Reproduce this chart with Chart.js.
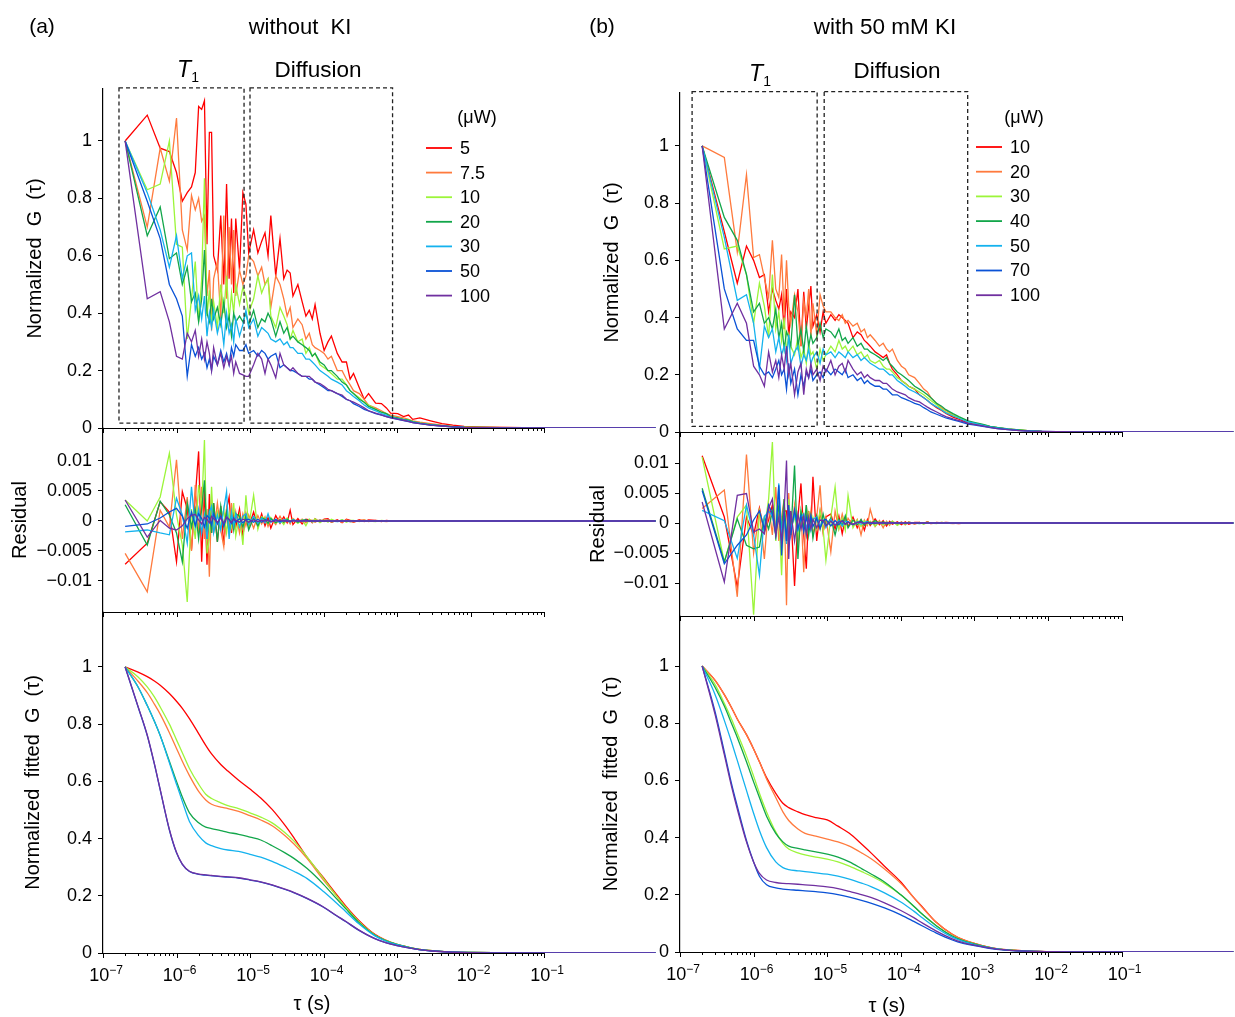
<!DOCTYPE html>
<html><head><meta charset="utf-8">
<script src="https://cdn.jsdelivr.net/npm/chart.js@4.4.1/dist/chart.umd.min.js"></script>
<style>
html,body{margin:0;padding:0;background:#fff;}
#fig{position:relative;width:1235px;height:1017px;overflow:hidden;background:#fff;font-family:"Liberation Sans",Arial,sans-serif;color:#000;}
#fig canvas{position:absolute;}
.t{position:absolute;transform:translate(-50%,-50%);white-space:pre;line-height:1;}
</style></head><body><div id="fig">
<canvas id="cTL" width="660" height="460" style="left:0;top:0"></canvas>
<canvas id="cML" width="660" height="240" style="left:0;top:400px"></canvas>
<canvas id="cBL" width="660" height="427" style="left:0;top:590px"></canvas>
<canvas id="cTR" width="655" height="460" style="left:580px;top:0"></canvas>
<canvas id="cMR" width="655" height="240" style="left:580px;top:400px"></canvas>
<canvas id="cBR" width="655" height="427" style="left:580px;top:590px"></canvas>
<div class="t" style="left:42px;top:25px;font-size:21px">(a)</div>
<div class="t" style="left:300px;top:27px;font-size:22px">without  KI</div>
<div class="t" style="left:602px;top:25px;font-size:21px">(b)</div>
<div class="t" style="left:885px;top:27px;font-size:22.5px">with 50 mM KI</div>
<div class="t" style="left:188px;top:71px;font-size:23px"><i>T</i><sub style="font-size:14px">1</sub></div>
<div class="t" style="left:318px;top:70px;font-size:22.5px">Diffusion</div>
<div class="t" style="left:760px;top:75px;font-size:23px"><i>T</i><sub style="font-size:14px">1</sub></div>
<div class="t" style="left:897px;top:71px;font-size:22.5px">Diffusion</div>
<div class="t" style="left:312px;top:1003px;font-size:20px">τ (s)</div>
<div class="t" style="left:887px;top:1005px;font-size:20px">τ (s)</div>
</div>
<script>
Chart.defaults.font.family = '"Liberation Sans", Arial, sans-serif';
Chart.defaults.color = '#000';

// ---------- tick definitions ----------
const xMajor = [1e-7, 1e-6, 1e-5, 1e-4, 1e-3, 1e-2, 1e-1];
const xMinorMult = [2, 3, 4, 5, 6, 7, 8, 9];
const xExpLabels = ['\u22127', '\u22126', '\u22125', '\u22124', '\u22123', '\u22122', '\u22121'];
const gTicks = [0, 0.2, 0.4, 0.6, 0.8, 1];
const gTickLabels = ['0', '0.2', '0.4', '0.6', '0.8', '1'];
const rTicks = [-0.01, -0.005, 0, 0.005, 0.01];
const rTickLabels = ['\u22120.01', '\u22120.005', '0', '0.005', '0.01'];

// ---------- series meta ----------
const colors = ['#ff0000', '#ff7a3d', '#9cf53a', '#12a64a', '#14b2ee', '#0a52d6', '#7030a0'];
const powersA = ['5', '7.5', '10', '20', '30', '50', '100'];
const powersB = ['10', '20', '30', '40', '50', '70', '100'];

// ---------- lag times (microseconds) ----------
const tauUs = [0.2,0.4,0.6,0.8,1,1.2,1.4,1.6,1.8,2,2.2,2.4,2.6,2.8,3,3.2,3.6,4,4.4,4.8,5.2,5.6,6,6.4,7.2,8,8.8,9.6,
 11.2,12.8,14.4,16,17.6,19.2,22.4,25.6,28.8,32,35.2,38.4,44.8,51.2,57.6,64,70.4,76.8,89.6,102,
 115,128,154,179,205,230,256,307,358,410,512,614,717,819,
 1024,1229,1434,1638,2048,2867,4096,5734,8192,
 13000,26000,52000,100000,210000,520000,1000000,3300000];
const resTauUs = [0.2,0.4,0.6,0.8,1,1.2,1.4,1.6,1.8,2,2.2,2.4,2.6,2.8,3,3.2,3.6,4,4.4,4.8,5.2,5.6,6,6.4,7.2,8,8.8,9.6,
 11.2,12.8,14.4,16,17.6,19.2,22.4,25.6,28.8,32,35.2,38.4,44.8,51.2,57.6,64,70.4,76.8,89.6,102,
 115,128,154,179,205,230,256,307,358,410,512,614,717,819,
 2048,8192,100000,3300000];
const fitTauUs = [0.2,0.3,0.4,0.5,0.6,0.8,1,1.2,1.5,2,2.5,3,4,5,7,10,14,20,30,40,60,100,150,200,300,500,700,1000,1500,2000,3000,5000,10000,20000,100000,1000000,3300000];

// ---------- (a) normalized G ----------
const gA5 = [1.0,1.09,0.975,0.963,0.89,0.79,0.82,0.84,0.89,1.12,1.11,1.14,0.64,1.03,1.03,0.6,0.55,0.74,0.5,0.85,0.52,0.73,0.47,0.73,0.55,0.82,0.78,0.61,
 0.69,0.61,0.65,0.68,0.6,0.74,0.53,0.66,0.52,0.55,0.54,0.46,0.5,0.44,0.39,0.41,0.38,0.43,0.33,0.27,
 0.3,0.32,0.26,0.23,0.23,0.17,0.19,0.14,0.1,0.12,0.087,0.085,0.07,0.052,
 0.05,0.04,0.045,0.03,0.035,0.025,0.015,0.01,0.006,
 0.004,0.002,0.001,0.001,0,0.001,0,0];
const gA7_5 = [1.0,0.7,0.975,0.86,1.08,0.69,0.62,0.81,0.76,0.8,0.72,0.74,0.46,0.55,0.34,0.52,0.58,0.38,0.74,0.45,0.7,0.5,0.69,0.46,0.55,0.5,0.53,0.6,
 0.58,0.53,0.56,0.5,0.52,0.42,0.53,0.5,0.45,0.39,0.42,0.35,0.38,0.36,0.31,0.33,0.29,0.28,0.27,0.26,
 0.24,0.25,0.2,0.2,0.17,0.15,0.13,0.12,0.1,0.08,0.07,0.06,0.05,0.045,
 0.04,0.035,0.03,0.025,0.02,0.015,0.01,0.006,0.004,
 0.002,0.002,0.001,0,0,0.001,0,0];
const gA10 = [1.0,0.83,0.85,1.0,0.64,0.63,0.31,0.45,0.58,0.37,0.52,0.87,0.39,0.48,0.36,0.44,0.35,0.5,0.4,0.53,0.38,0.47,0.4,0.5,0.43,0.49,0.46,0.4,
 0.45,0.53,0.47,0.5,0.52,0.39,0.35,0.42,0.39,0.36,0.31,0.34,0.3,0.31,0.26,0.28,0.25,0.26,0.22,0.21,
 0.2,0.19,0.17,0.17,0.15,0.13,0.12,0.105,0.09,0.08,0.065,0.055,0.05,0.04,
 0.035,0.03,0.028,0.022,0.018,0.012,0.008,0.005,0.003,
 0.002,0.001,0.001,0,0,0,0,0];
const gA20 = [1.0,0.67,0.77,0.59,0.61,0.5,0.56,0.44,0.47,0.37,0.45,0.62,0.4,0.37,0.45,0.38,0.42,0.36,0.44,0.35,0.39,0.32,0.4,0.37,0.39,0.37,0.4,0.36,
 0.41,0.35,0.38,0.37,0.4,0.38,0.32,0.37,0.33,0.35,0.31,0.32,0.3,0.29,0.28,0.27,0.25,0.26,0.23,0.22,
 0.2,0.2,0.18,0.16,0.15,0.13,0.12,0.1,0.09,0.075,0.065,0.055,0.05,0.04,
 0.035,0.03,0.027,0.022,0.017,0.012,0.008,0.005,0.003,
 0.002,0.001,0,0,0,0,0,0];
const gA30 = [1.0,0.82,0.69,0.56,0.67,0.52,0.6,0.61,0.41,0.46,0.38,0.46,0.32,0.4,0.35,0.41,0.33,0.38,0.29,0.4,0.33,0.36,0.3,0.38,0.32,0.36,0.41,0.35,
 0.38,0.32,0.35,0.34,0.33,0.31,0.3,0.31,0.29,0.3,0.28,0.28,0.26,0.26,0.24,0.24,0.23,0.22,0.2,0.19,
 0.18,0.17,0.16,0.15,0.13,0.12,0.11,0.095,0.08,0.07,0.06,0.05,0.045,0.038,
 0.033,0.028,0.025,0.02,0.016,0.011,0.007,0.004,0.002,
 0.001,0.001,0,0,0,0,0,0];
const gA50 = [1.0,0.79,0.66,0.5,0.45,0.39,0.18,0.29,0.25,0.28,0.24,0.26,0.21,0.24,0.2,0.25,0.22,0.27,0.23,0.26,0.22,0.28,0.25,0.29,0.27,0.27,0.29,0.26,
 0.27,0.25,0.27,0.26,0.24,0.25,0.26,0.21,0.22,0.21,0.2,0.2,0.19,0.18,0.18,0.17,0.17,0.16,0.15,0.14,
 0.13,0.13,0.12,0.11,0.1,0.095,0.085,0.075,0.065,0.06,0.05,0.045,0.04,0.035,
 0.03,0.026,0.022,0.019,0.015,0.01,0.007,0.004,0.002,
 0.001,0,0,0,0,0,0,0];
const gA100 = [1.0,0.45,0.475,0.37,0.25,0.24,0.33,0.3,0.34,0.25,0.31,0.24,0.3,0.26,0.2,0.28,0.22,0.26,0.21,0.25,0.22,0.25,0.19,0.23,0.19,0.185,0.18,0.18,
 0.22,0.26,0.24,0.19,0.24,0.22,0.175,0.26,0.22,0.21,0.2,0.21,0.19,0.18,0.18,0.18,0.17,0.16,0.155,0.145,
 0.135,0.13,0.12,0.115,0.1,0.095,0.09,0.08,0.07,0.06,0.052,0.046,0.04,0.036,
 0.031,0.027,0.023,0.019,0.015,0.01,0.007,0.004,0.002,
 0.001,0,0,0,0,0,0,0];

// ---------- (b) normalized G ----------
const gB10 = [1.0,0.7,0.52,0.65,0.6,0.54,0.55,0.42,0.5,0.46,0.43,0.48,0.36,0.5,0.33,0.42,0.4,0.5,0.3,0.49,0.36,0.44,0.51,0.37,0.41,0.35,0.42,0.38,
 0.41,0.39,0.41,0.4,0.39,0.38,0.33,0.35,0.34,0.32,0.31,0.3,0.28,0.27,0.26,0.27,0.24,0.22,0.2,0.18,
 0.17,0.16,0.15,0.13,0.12,0.11,0.1,0.085,0.075,0.065,0.052,0.045,0.038,0.033,
 0.028,0.024,0.021,0.018,0.014,0.01,0.006,0.004,0.002,
 0.001,0.001,0,0,0,0,0,0];
const gB20 = [1.0,0.96,0.63,0.9,0.61,0.62,0.54,0.47,0.67,0.5,0.47,0.62,0.41,0.6,0.44,0.38,0.48,0.42,0.3,0.46,0.4,0.5,0.33,0.45,0.34,0.48,0.44,0.42,
 0.42,0.4,0.39,0.41,0.38,0.39,0.37,0.38,0.35,0.36,0.33,0.34,0.32,0.3,0.31,0.29,0.28,0.29,0.25,0.23,
 0.22,0.2,0.19,0.17,0.15,0.14,0.12,0.1,0.085,0.075,0.06,0.05,0.042,0.036,
 0.03,0.026,0.022,0.019,0.015,0.01,0.007,0.004,0.002,
 0.001,0.001,0,0,0,0,0,0];
const gB30 = [1.0,0.64,0.65,0.55,0.38,0.52,0.44,0.33,0.55,0.36,0.42,0.32,0.4,0.28,0.34,0.3,0.27,0.33,0.26,0.29,0.24,0.31,0.27,0.28,0.22,0.29,0.25,0.27,
 0.3,0.28,0.32,0.29,0.3,0.28,0.3,0.27,0.28,0.26,0.27,0.25,0.24,0.25,0.23,0.22,0.22,0.21,0.19,0.18,
 0.17,0.16,0.15,0.14,0.13,0.12,0.11,0.095,0.08,0.07,0.058,0.05,0.043,0.036,
 0.03,0.026,0.022,0.019,0.015,0.01,0.007,0.004,0.002,
 0.001,0,0,0,0,0,0,0];
const gB40 = [1.0,0.75,0.67,0.55,0.42,0.45,0.38,0.4,0.36,0.43,0.33,0.38,0.29,0.35,0.33,0.3,0.48,0.3,0.36,0.28,0.37,0.3,0.34,0.31,0.33,0.38,0.33,0.36,
 0.35,0.33,0.36,0.32,0.33,0.31,0.33,0.3,0.31,0.29,0.29,0.28,0.27,0.26,0.25,0.26,0.24,0.23,0.21,0.2,
 0.19,0.18,0.16,0.15,0.14,0.13,0.12,0.1,0.09,0.078,0.064,0.054,0.046,0.039,
 0.033,0.028,0.024,0.02,0.016,0.011,0.007,0.004,0.002,
 0.001,0,0,0,0,0,0,0];
const gB50 = [1.0,0.68,0.46,0.48,0.38,0.22,0.37,0.33,0.36,0.28,0.33,0.27,0.3,0.25,0.34,0.24,0.28,0.3,0.23,0.27,0.25,0.29,0.24,0.26,0.28,0.24,0.29,0.27,
 0.28,0.26,0.28,0.27,0.26,0.28,0.26,0.27,0.25,0.26,0.25,0.24,0.23,0.22,0.22,0.21,0.2,0.2,0.18,0.17,
 0.16,0.15,0.14,0.13,0.12,0.11,0.1,0.088,0.077,0.067,0.056,0.048,0.041,0.035,
 0.03,0.025,0.021,0.018,0.014,0.01,0.006,0.004,0.002,
 0.001,0,0,0,0,0,0,0];
const gB70 = [1.0,0.5,0.36,0.32,0.32,0.23,0.2,0.21,0.19,0.22,0.25,0.2,0.22,0.15,0.24,0.17,0.22,0.13,0.2,0.16,0.21,0.19,0.22,0.18,0.2,0.21,0.19,0.22,
 0.2,0.22,0.21,0.2,0.22,0.19,0.2,0.18,0.19,0.17,0.18,0.17,0.16,0.16,0.15,0.15,0.14,0.13,0.13,0.12,
 0.115,0.11,0.1,0.095,0.085,0.078,0.07,0.062,0.055,0.049,0.042,0.037,0.032,0.028,
 0.024,0.021,0.018,0.015,0.012,0.008,0.005,0.003,0.002,
 0.001,0,0,0,0,0,0,0];
const gB100 = [1.0,0.36,0.45,0.38,0.23,0.2,0.16,0.28,0.21,0.25,0.19,0.27,0.22,0.3,0.2,0.24,0.13,0.21,0.24,0.13,0.22,0.19,0.24,0.2,0.22,0.18,0.23,0.21,
 0.25,0.2,0.23,0.24,0.21,0.25,0.22,0.2,0.21,0.19,0.2,0.19,0.18,0.18,0.17,0.17,0.16,0.15,0.14,0.135,
 0.13,0.12,0.11,0.105,0.095,0.087,0.08,0.07,0.061,0.054,0.046,0.04,0.035,0.03,
 0.026,0.022,0.019,0.016,0.012,0.008,0.005,0.003,0.002,
 0.001,0,0,0,0,0,0,0];

// ---------- (a) residuals ----------
const rA5 = [-0.0072,-0.0037,0.0032,0.0015,-0.0068,0.0049,0.002,-0.0048,0.004,0.0116,-0.0068,0.0054,-0.0073,0.0045,-0.002,0.003,-0.0035,0.0025,-0.004,0.002,0.004,-0.002,0.0015,-0.001,0.002,-0.0025,0.0012,-0.001,
 0.0015,-0.001,0.0012,-0.0008,0.0006,-0.0012,0.0009,-0.0004,0.0007,-0.0003,0.0018,-0.0006,0.0004,-0.0005,0.0003,0.0002,-0.0003,0.0004,-0.0002,0.0003,
 0.0004,-0.0002,0.0002,-0.0003,0.0003,0.0001,-0.0002,0.0002,-0.0001,0.0002,0.0001,-0.0001,0.0001,0,
 0,0,0,0];
const rA7_5 = [-0.0054,-0.0118,0.0018,-0.001,0.0102,-0.003,0.004,-0.005,0.006,-0.002,0.0057,-0.003,0.002,-0.0093,0.0035,-0.002,0.003,-0.0015,-0.0043,0.002,-0.001,0.003,-0.0015,0.0015,-0.002,0.0012,-0.0008,0.001,
 -0.0012,0.0009,-0.0005,0.0007,-0.0009,0.0004,-0.0006,0.0008,-0.0004,0.0003,-0.0005,0.0004,-0.0002,0.0003,-0.0003,0.0002,0.0001,-0.0002,0.0002,-0.0001,
 0.0002,-0.0002,0.0001,-0.0002,0.0002,-0.0001,-0.0002,0.0001,0.0002,-0.0001,0.0001,0,-0.0001,0,
 0,0,0,0];
const rA10 = [0.0035,0,0.004,0.0113,0.001,-0.004,-0.0135,0.002,-0.003,0.006,0.002,0.0135,-0.0054,-0.003,0.0057,-0.0015,0.0015,-0.001,0.002,-0.002,0.0012,-0.001,0.003,-0.0025,0.001,-0.004,0.0043,-0.001,
 0.0043,-0.0014,0.0007,0.0004,-0.0005,0.0006,-0.0004,0.0002,-0.0006,0.0005,-0.0002,0.0003,-0.0004,0.0002,-0.0008,0.0003,-0.0002,0.0004,-0.0003,0.0002,
 -0.0002,0.0003,-0.0001,0.0002,-0.0002,0.0001,0.0001,-0.0001,0.0001,0,-0.0001,0.0001,0,0,
 0,0,0,0];
const rA20 = [0.0027,-0.004,0.0033,0.001,-0.002,-0.0068,0.003,-0.001,0.002,-0.003,0.002,0.0068,-0.003,0.002,-0.002,0.003,-0.0035,0.0025,-0.001,0.0015,-0.002,0.001,-0.0015,0.0012,0.0008,-0.001,0.0008,-0.0015,
 0.0006,-0.0008,0.0005,0.0003,-0.0004,0.0004,-0.0003,0.0002,-0.0002,0.0003,-0.0001,0.0002,-0.0002,0.0001,0.0002,-0.0001,0.0001,-0.0001,0.0001,0,
 0.0001,-0.0001,0,0.0001,0,-0.0001,0,0,0,0,0,0,0,0,
 0,0,0,0];
const rA30 = [-0.0018,-0.0015,-0.002,-0.0023,0.0038,0.001,-0.0037,0.0057,-0.001,0.002,-0.002,0.001,-0.003,0.0015,0.0025,-0.002,0.001,-0.0015,0.002,0.0049,-0.003,0.0015,-0.0008,0.0012,-0.001,0.0008,0.0012,-0.0006,
 0.0008,-0.0004,0.0005,-0.0003,0.0012,-0.0002,0.0003,-0.0003,0.0002,0.0001,-0.0002,0.0002,-0.0001,0.0001,0,0.0001,-0.0001,0,0.0001,0,
 0.0001,0,-0.0001,0,0,0,0,0,0,0,0,0,0,0,
 0,0,0,0];
const rA50 = [-0.0009,-0.0005,0.0005,0.0015,0.0021,0.0008,-0.0012,0.0015,-0.0008,0.0012,0.0004,-0.001,0.0009,0.0005,-0.0006,0.0012,-0.0005,0.0008,-0.0008,0.0006,0.0003,-0.0004,0.0005,-0.0002,0.0004,-0.0003,0.0002,0.0003,
 -0.0002,0.0003,-0.0002,0.0002,0.0001,-0.0001,0.0002,-0.0001,0.0001,0,-0.0001,0.0001,0,0,0.0001,0,0,0,0,0,
 0,0,0,0,0,0,0,0,0,0,0,0,0,0,
 0,0,0,0];
const rA100 = [0.0035,-0.0027,0.0001,-0.0012,-0.0015,-0.0008,0.0004,0.0009,0.0011,0.0002,-0.0005,0.0006,0.0003,-0.0003,0.0008,0.0004,-0.0002,0.0005,-0.0004,0.0007,0.0002,-0.0003,0.0004,0.0001,-0.0002,0.0003,0.0001,-0.0002,
 0.0002,-0.0001,0.0001,0,0.0001,-0.0001,0,0.0001,0,0,0,0,0,0,0,0,0,0,0,0,
 0,0,0,0,0,0,0,0,0,0,0,0,0,0,
 0,0,0,0];

// ---------- (b) residuals ----------
const rB10 = [0.0112,0.001,-0.0107,0.001,-0.002,0.0025,-0.0015,0.0005,0.003,-0.001,0.002,-0.003,0.002,0.002,-0.003,0.002,-0.0105,0.001,0.0066,-0.002,-0.0076,0.002,-0.001,0.0077,-0.003,0.002,-0.0015,0.001,
 0.0015,-0.001,0.0012,-0.0018,0.0008,-0.0006,0.001,-0.0008,0.0005,-0.0012,0.0006,-0.0004,0.0007,-0.0003,0.0004,-0.0005,0.0003,-0.0002,0.0002,-0.0003,
 0.0002,-0.0002,0.0001,0.0001,-0.0001,0.0002,-0.0001,0.0001,0,0.0001,0,-0.0001,0,0,
 0,0,0,0];
const rB20 = [0.0024,0.0055,-0.0123,0.0114,-0.005,0.002,-0.006,0.003,-0.002,0.006,-0.003,0.001,0.004,-0.0137,0.005,-0.002,0.003,-0.004,0.002,-0.0082,0.003,-0.001,0.002,-0.002,0.001,0.0063,-0.0015,0.001,
 -0.0048,0.002,-0.001,0.0015,-0.0006,0.0008,-0.0005,0.0006,-0.002,0.0005,-0.0004,0.0023,-0.0006,0.0004,-0.0008,0.0003,-0.0004,0.0003,-0.0002,0.0002,
 -0.0003,0.0002,-0.0002,0.0001,-0.0001,0.0002,-0.0001,0,0.0001,0,-0.0001,0,0,0,
 0,0,0,0];
const rB30 = [0.011,-0.0065,0.001,0.003,-0.0153,0.002,-0.001,0.004,0.0135,-0.003,0.002,-0.0087,0.003,-0.002,0.004,-0.001,0.001,-0.002,0.002,0.001,-0.002,0.0015,-0.001,0.001,-0.001,0.002,-0.001,-0.0062,
 0.001,0.006,-0.001,0.0008,-0.0012,0.0046,-0.0008,0.0005,-0.0006,0.0004,-0.0002,0.0003,-0.0005,0.0002,-0.0003,0.0002,-0.0002,0.0003,-0.0004,0.0001,
 -0.0002,0.0001,-0.0001,0.0001,-0.0002,0.0001,0,-0.0001,0.0001,0,0,0,0,0,
 0,0,0,0];
const rB40 = [0.0058,-0.0065,0.0007,-0.0037,-0.0043,-0.004,0.001,-0.001,0.002,-0.002,0.003,-0.001,0.004,-0.003,0.002,-0.002,0.0096,-0.006,0.002,-0.001,0.003,-0.002,0.001,-0.0025,0.0012,-0.001,0.0015,-0.0005,
 0.0008,-0.002,0.0006,-0.0004,0.0012,-0.0008,0.0005,-0.0003,0.0006,-0.0004,0.0003,-0.0002,0.0004,-0.0001,0.0002,-0.0002,0.0001,0.0001,-0.0001,0.0001,
 -0.0001,0.0001,0,-0.0001,0,0.0001,0,0,0,0,0,0,0,0,
 0,0,0,0];
const rB50 = [0.0021,0.0004,-0.0059,0.003,-0.002,-0.0087,0.001,0.002,0.0012,-0.0015,0.0066,-0.002,0.001,-0.0035,0.002,-0.001,0.0015,-0.0012,0.001,0.0015,-0.001,0.0008,-0.0012,0.0006,0.001,-0.0006,0.0004,-0.0008,
 0.0006,-0.0003,0.0004,-0.0005,0.0003,0.0002,-0.0003,0.0002,-0.0002,0.0001,0.0002,-0.0001,0.0001,0,-0.0001,0.0001,0,0,0,0,
 0,0,0,0,0,0,0,0,0,0,0,0,0,0,
 0,0,0,0];
const rB70 = [0.0054,-0.0068,-0.0037,-0.002,0.0005,0.002,-0.001,0.003,0.0015,-0.002,0.0063,-0.0054,0.002,-0.003,0.003,-0.002,0.0022,-0.001,0.0012,-0.0015,0.001,-0.0008,0.0012,-0.0006,0.0008,-0.0009,0.0004,0.0006,
 -0.0005,0.0004,-0.0003,0.0004,-0.0002,0.0002,-0.0003,0.0001,0.0002,-0.0001,0.0001,0,-0.0001,0.0001,0,0,0,0,0,0,
 0,0,0,0,0,0,0,0,0,0,0,0,0,0,
 0,0,0,0];
const rB100 = [0.0035,-0.0098,0.0046,0.0049,-0.0015,-0.001,-0.0018,0.0025,0.004,-0.002,0.001,-0.003,0.002,0.0104,-0.006,0.002,-0.003,0.0015,-0.001,0.0012,-0.002,0.001,-0.001,0.0006,-0.0008,0.0005,0.0004,-0.0005,
 0.0003,-0.0004,0.0002,0.0003,-0.0002,0.0001,-0.0002,0.0001,0.0001,-0.0001,0,0.0001,0,0,0,0,0,0,0,0,
 0,0,0,0,0,0,0,0,0,0,0,0,0,0,
 0,0,0,0];

// ---------- (a) fitted ----------
const fA5 = [1,0.982,0.966,0.951,0.936,0.907,0.88,0.855,0.819,0.767,0.726,0.696,0.659,0.636,0.604,0.573,0.542,0.502,0.446,0.401,0.334,0.263,0.205,0.165,0.115,0.065,0.045,0.03,0.019,0.013,0.008,0.004,0.002,0.001,0,0,0];
const fA7_5 = [1,0.95,0.91,0.87,0.835,0.77,0.715,0.67,0.62,0.565,0.535,0.52,0.51,0.505,0.495,0.48,0.465,0.445,0.41,0.38,0.33,0.255,0.2,0.16,0.11,0.063,0.044,0.03,0.019,0.013,0.008,0.004,0.002,0.001,0,0,0];
const fA10 = [1,0.965,0.93,0.895,0.86,0.8,0.745,0.7,0.645,0.59,0.555,0.54,0.525,0.515,0.505,0.49,0.475,0.455,0.42,0.39,0.335,0.26,0.2,0.16,0.11,0.063,0.044,0.03,0.019,0.013,0.008,0.004,0.002,0.001,0,0,0];
const fA20 = [1,0.93,0.865,0.81,0.76,0.67,0.6,0.545,0.49,0.455,0.44,0.435,0.428,0.422,0.415,0.405,0.395,0.375,0.35,0.33,0.295,0.24,0.19,0.155,0.108,0.062,0.043,0.03,0.019,0.013,0.008,0.004,0.002,0.001,0,0,0];
const fA30 = [1,0.93,0.865,0.81,0.76,0.665,0.59,0.53,0.46,0.41,0.385,0.375,0.365,0.36,0.355,0.345,0.335,0.32,0.3,0.285,0.26,0.215,0.175,0.145,0.103,0.06,0.042,0.029,0.018,0.012,0.0075,0.004,0.002,0.001,0,0,0];
const fA50 = [1,0.86,0.76,0.66,0.57,0.43,0.35,0.31,0.285,0.275,0.272,0.27,0.267,0.265,0.262,0.255,0.248,0.237,0.222,0.21,0.19,0.16,0.13,0.11,0.08,0.05,0.036,0.026,0.017,0.012,0.007,0.0035,0.0015,0.0007,0,0,0];
const fA100 = [1,0.862,0.762,0.662,0.572,0.432,0.352,0.311,0.286,0.276,0.273,0.271,0.268,0.266,0.263,0.256,0.249,0.238,0.223,0.211,0.191,0.161,0.131,0.111,0.081,0.05,0.036,0.026,0.017,0.012,0.007,0.0035,0.0015,0.0007,0,0,0];

// ---------- (b) fitted ----------
const fB10 = [1,0.95,0.9,0.855,0.815,0.76,0.71,0.665,0.61,0.555,0.52,0.505,0.49,0.48,0.47,0.462,0.44,0.415,0.375,0.345,0.3,0.245,0.19,0.155,0.105,0.062,0.043,0.03,0.018,0.012,0.007,0.0035,0.0015,0.0007,0,0,0];
const fB20 = [1,0.95,0.9,0.855,0.815,0.76,0.71,0.665,0.605,0.54,0.49,0.46,0.43,0.415,0.405,0.395,0.385,0.37,0.345,0.325,0.29,0.24,0.19,0.153,0.105,0.062,0.043,0.03,0.018,0.012,0.007,0.0035,0.0015,0.0007,0,0,0];
const fB30 = [1,0.935,0.87,0.815,0.765,0.685,0.615,0.555,0.49,0.42,0.38,0.36,0.347,0.34,0.332,0.325,0.315,0.3,0.28,0.265,0.24,0.2,0.16,0.13,0.093,0.056,0.04,0.028,0.017,0.011,0.0065,0.003,0.0014,0.0006,0,0,0];
const fB40 = [1,0.925,0.86,0.8,0.75,0.665,0.595,0.54,0.475,0.415,0.385,0.37,0.362,0.357,0.35,0.342,0.332,0.315,0.29,0.272,0.245,0.2,0.16,0.13,0.093,0.056,0.04,0.028,0.017,0.011,0.0065,0.003,0.0014,0.0006,0,0,0];
const fB50 = [1,0.9,0.81,0.735,0.67,0.565,0.485,0.425,0.365,0.315,0.295,0.288,0.284,0.281,0.277,0.272,0.265,0.255,0.24,0.228,0.207,0.175,0.143,0.118,0.085,0.052,0.037,0.026,0.016,0.011,0.006,0.003,0.0013,0.0006,0,0,0];
const fB70 = [1,0.84,0.7,0.59,0.51,0.39,0.315,0.265,0.235,0.224,0.22,0.218,0.216,0.214,0.211,0.207,0.201,0.192,0.18,0.17,0.154,0.13,0.107,0.09,0.067,0.042,0.03,0.022,0.014,0.0095,0.0055,0.0027,0.0012,0.0005,0,0,0];
const fB100 = [1,0.83,0.69,0.58,0.5,0.385,0.315,0.275,0.252,0.243,0.24,0.239,0.237,0.235,0.232,0.228,0.222,0.212,0.2,0.19,0.172,0.145,0.12,0.1,0.074,0.046,0.033,0.024,0.015,0.01,0.006,0.003,0.0013,0.0005,0,0,0];

// ---------- dashed region boxes [tauStart, tauEnd, yBottom, yTop] ----------
const boxesA = [[1.65e-7, 8.3e-6, 0.017, 1.185], [1.0e-5, 8.7e-4, 0.017, 1.185]];
const boxesB = [[1.46e-7, 7.3e-6, 0.02, 1.19], [9.1e-6, 8.1e-4, 0.02, 1.19]];

// ---------- build ----------
const xTickValues = [];
xMajor.forEach((d, i) => {
  xTickValues.push(d);
  if (i < xMajor.length - 1) xMinorMult.forEach(m => xTickValues.push(m * d));
});
function isMajor(v) { const l = Math.log10(v); return Math.abs(l - Math.round(l)) < 1e-6; }

function makeDeco(cfg) {
  return {
    id: 'deco_' + cfg.id,
    afterDraw(chart) {
      const ctx = chart.ctx, xs = chart.scales.x, ys = chart.scales.y, ca = chart.chartArea;
      ctx.save();
      ctx.strokeStyle = '#000';
      ctx.lineWidth = 1.2;
      const xa = xs.getPixelForValue(xMajor[0]);
      const xb = xs.getPixelForValue(xMajor[xMajor.length - 1]);
      ctx.beginPath(); ctx.moveTo(xa, ca.bottom + 0.5); ctx.lineTo(xb + 0.5, ca.bottom + 0.5); ctx.stroke();
      ctx.lineWidth = 1;
      xs.ticks.forEach(t => {
        const px = Math.round(xs.getPixelForValue(t.value)) + 0.5;
        const len = isMajor(t.value) ? 5 : 3;
        ctx.beginPath(); ctx.moveTo(px, ca.bottom); ctx.lineTo(px, ca.bottom + len); ctx.stroke();
      });
      if (cfg.xLabels) {
        ctx.fillStyle = '#000';
        ctx.textBaseline = 'alphabetic';
        xMajor.forEach((d, i) => {
          const px = xs.getPixelForValue(d);
          ctx.font = '18px "Liberation Sans", Arial, sans-serif';
          const w1 = ctx.measureText('10').width;
          ctx.font = '12px "Liberation Sans", Arial, sans-serif';
          const w2 = ctx.measureText(xExpLabels[i]).width;
          const x0 = px - (w1 + w2) / 2 + 3;
          const base = ca.bottom + 28;
          ctx.font = '18px "Liberation Sans", Arial, sans-serif';
          ctx.textAlign = 'left';
          ctx.fillText('10', x0, base);
          ctx.font = '12px "Liberation Sans", Arial, sans-serif';
          ctx.fillText(xExpLabels[i], x0 + w1, base - 7);
        });
      }
      if (cfg.boxes) {
        ctx.strokeStyle = '#222';
        ctx.lineWidth = 1.3;
        ctx.setLineDash([4, 3]);
        cfg.boxes.forEach(b => {
          const x1 = xs.getPixelForValue(b[0]), x2 = xs.getPixelForValue(b[1]);
          const y1 = ys.getPixelForValue(b[2]), y2 = ys.getPixelForValue(b[3]);
          ctx.strokeRect(x1, y2, x2 - x1, y1 - y2);
        });
        ctx.setLineDash([]);
      }
      if (cfg.legend) {
        const L = cfg.legend;
        ctx.fillStyle = '#000';
        ctx.textBaseline = 'middle';
        ctx.textAlign = 'center';
        ctx.font = '18px "Liberation Sans", Arial, sans-serif';
        ctx.fillText('(\u03bcW)', L.unitX, L.unitY);
        ctx.textAlign = 'left';
        chart.data.datasets.forEach((ds, i) => {
          const y = L.y0 + i * L.dy;
          ctx.strokeStyle = ds.borderColor;
          ctx.lineWidth = 1.8;
          ctx.beginPath(); ctx.moveTo(L.x0, y); ctx.lineTo(L.x0 + 26, y); ctx.stroke();
          ctx.fillText(ds.label, L.x0 + 34, y + 1);
        });
      }
      ctx.restore();
    }
  };
}

function makeChart(cfg) {
  const datasets = cfg.series.map((vals, i) => ({
    label: cfg.labels[i],
    data: vals.slice(0, cfg.tau.length).map((v, k) => ({ x: cfg.tau[k] * 1e-6, y: v })),
    borderColor: colors[i],
    borderWidth: 1.3,
    pointRadius: 0,
    fill: false,
    tension: cfg.smooth ? 0.4 : 0,
    cubicInterpolationMode: cfg.smooth ? 'monotone' : 'default',
    order: cfg.series.length - 1 - i
  }));
  return new Chart(document.getElementById(cfg.id), {
    type: 'line',
    data: { datasets },
    options: {
      responsive: false, animation: false, devicePixelRatio: 1, events: [],
      layout: { padding: { left: 0, right: cfg.padRight, top: cfg.padTop, bottom: 0 } },
      plugins: { legend: { display: false }, tooltip: { enabled: false } },
      scales: {
        x: {
          type: 'logarithmic', min: 1e-7, max: cfg.xMax,
          afterBuildTicks: s => { s.ticks = xTickValues.map(v => ({ value: v })); },
          afterFit: s => { s.height = cfg.xH; },
          grid: { display: false, drawTicks: false },
          border: { display: false },
          ticks: { display: false, autoSkip: false }
        },
        y: {
          type: 'linear', min: cfg.yMin, max: cfg.yMax,
          afterBuildTicks: s => { s.ticks = cfg.yTicks.map(v => ({ value: v })); },
          afterFit: s => { s.width = cfg.yW; },
          ticks: { callback: (v, i) => cfg.yLabels[i], font: { size: 18 }, color: '#000', padding: 6, autoSkip: false },
          grid: { drawOnChartArea: false, drawTicks: true, tickLength: 5, color: '#000', lineWidth: 1 },
          border: { display: true, color: '#000', width: 1.2 },
          title: { display: true, text: cfg.yTitle, font: { size: 20 }, color: '#000', padding: { top: cfg.titlePad, bottom: 0 } }
        }
      }
    },
    plugins: [makeDeco(cfg)]
  });
}

const seriesGA = [gA5, gA7_5, gA10, gA20, gA30, gA50, gA100];
const seriesGB = [gB10, gB20, gB30, gB40, gB50, gB70, gB100];
const seriesRA = [rA5, rA7_5, rA10, rA20, rA30, rA50, rA100];
const seriesRB = [rB10, rB20, rB30, rB40, rB50, rB70, rB100];
const seriesFA = [fA5, fA7_5, fA10, fA20, fA30, fA50, fA100];
const seriesFB = [fB10, fB20, fB30, fB40, fB50, fB70, fB100];

// left column
makeChart({ id: 'cTL', series: seriesGA, labels: powersA, tau: tauUs, xMax: 3.34, padRight: 4, padTop: 89, xH: 32, yW: 103,
  yMin: 0, yMax: 1.181, yTicks: gTicks, yLabels: gTickLabels, yTitle: 'Normalized  G  (\u03c4)', titlePad: 23,
  boxes: boxesA, legend: { x0: 426, y0: 148, dy: 24.6, unitX: 477, unitY: 118 } });
makeChart({ id: 'cML', series: seriesRA, labels: powersA, tau: resTauUs, xMax: 3.34, padRight: 4, padTop: 28, xH: 28, yW: 103,
  yMin: -0.01517, yMax: 0.0155, yTicks: rTicks, yLabels: rTickLabels, yTitle: 'Residual', titlePad: 8 });
makeChart({ id: 'cBL', series: seriesFA, labels: powersA, tau: fitTauUs, xMax: 3.34, padRight: 4, padTop: 22, xH: 64, yW: 103,
  yMin: 0, yMax: 1.192, yTicks: gTicks, yLabels: gTickLabels, yTitle: 'Normalized  fitted  G  (\u03c4)', titlePad: 21,
  smooth: true, xLabels: true });
// right column
makeChart({ id: 'cTR', series: seriesGB, labels: powersB, tau: tauUs, xMax: 3.47, padRight: 0, padTop: 93, xH: 28, yW: 100,
  yMin: 0, yMax: 1.185, yTicks: gTicks, yLabels: gTickLabels, yTitle: 'Normalized  G  (\u03c4)', titlePad: 20,
  boxes: boxesB, legend: { x0: 396, y0: 147, dy: 24.7, unitX: 444, unitY: 118 } });
makeChart({ id: 'cMR', series: seriesRB, labels: powersB, tau: resTauUs, xMax: 3.47, padRight: 0, padTop: 32, xH: 24, yW: 100,
  yMin: -0.0155, yMax: 0.01517, yTicks: rTicks, yLabels: rTickLabels, yTitle: 'Residual', titlePad: 6 });
makeChart({ id: 'cBR', series: seriesFB, labels: powersB, tau: fitTauUs, xMax: 3.47, padRight: 0, padTop: 26, xH: 65, yW: 100,
  yMin: 0, yMax: 1.175, yTicks: gTicks, yLabels: gTickLabels, yTitle: 'Normalized  fitted  G  (\u03c4)', titlePad: 19,
  smooth: true, xLabels: true });
</script>
</body></html>
